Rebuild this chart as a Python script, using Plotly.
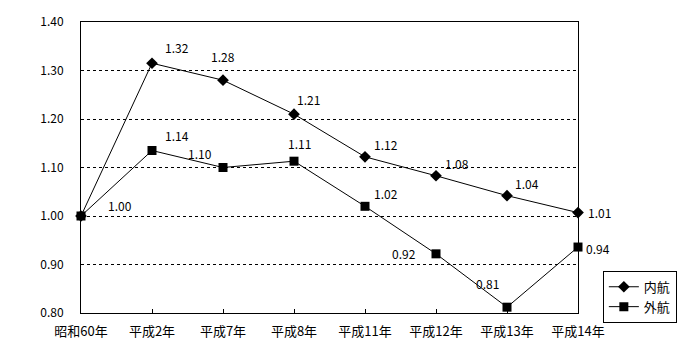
import plotly.graph_objects as go

categories = ["昭和60年", "平成2年", "平成7年", "平成8年", "平成11年", "平成12年", "平成13年", "平成14年"]
naikou = [1.00, 1.315, 1.28, 1.21, 1.122, 1.083, 1.042, 1.007]
gaikou = [1.00, 1.135, 1.10, 1.113, 1.02, 0.922, 0.812, 0.936]
naikou_labels = ["", "1.32", "1.28", "1.21", "1.12", "1.08", "1.04", "1.01"]
gaikou_labels = ["1.00", "1.14", "1.10", "1.11", "1.02", "0.92", "0.81", "0.94"]
y_ticks = [0.80, 0.90, 1.00, 1.10, 1.20, 1.30, 1.40]

# label offsets in pixels (dx, dy), dy positive = downward
naikou_off = [(0, 0), (25, -16), (0, -24), (14, -15), (21, -12), (21, -12), (20, -12), (21, 0)]
gaikou_off = [(39, -11), (25, -15), (-23, -14), (5, -18), (21, -13), (-32, 0), (-20, -24), (20, 1)]

FONT = "Noto Sans CJK JP"
fig = go.Figure()
x = list(range(len(categories)))
fig.add_trace(go.Scatter(x=x, y=naikou, mode="lines+markers", name="内航",
                         line=dict(color="black", width=1),
                         marker=dict(symbol="diamond", size=9, color="black"),
                         cliponaxis=False))
fig.add_trace(go.Scatter(x=x, y=gaikou, mode="lines+markers", name="外航",
                         line=dict(color="black", width=1),
                         marker=dict(symbol="square", size=9, color="black"),
                         cliponaxis=False))

ann = []
for i in x:
    if naikou_labels[i]:
        dx, dy = naikou_off[i]
        ann.append(dict(x=i, y=naikou[i], text=naikou_labels[i], showarrow=False,
                        xshift=dx, yshift=-dy, font=dict(family=FONT, size=12, color="black")))
    dx, dy = gaikou_off[i]
    ann.append(dict(x=i, y=gaikou[i], text=gaikou_labels[i], showarrow=False,
                    xshift=dx, yshift=-dy, font=dict(family=FONT, size=12, color="black")))

fig.update_layout(
    width=700, height=350,
    margin=dict(l=81, r=122, t=22, b=37),
    paper_bgcolor="white", plot_bgcolor="white",
    font=dict(family=FONT, size=12, color="black"),
    annotations=ann,
    showlegend=True,
    legend=dict(x=1.05, y=0.145, xanchor="left", yanchor="top",
                bordercolor="black", borderwidth=1, bgcolor="white",
                font=dict(family=FONT, size=13, color="black"),
                itemwidth=30, tracegroupgap=0),
)
fig.update_xaxes(range=[0, 7], tickvals=x, ticktext=categories, automargin=False,
                 showline=True, linecolor="black", linewidth=1, mirror=True,
                 ticks="inside", ticklen=4, tickcolor="black",
                 showgrid=False, zeroline=False, ticklabelstandoff=6,
                 tickfont=dict(family=FONT, size=13, color="black"))
fig.update_yaxes(range=[0.80, 1.40], tickvals=y_ticks, automargin=False,
                 ticktext=[f"{v:.2f}" for v in y_ticks],
                 showline=True, linecolor="black", linewidth=1, mirror=True,
                 showgrid=True, gridcolor="black", gridwidth=1, griddash="3px,3px",
                 zeroline=False, ticks="", ticklabelstandoff=14,
                 tickfont=dict(family=FONT, size=12, color="black"))
fig.write_html("out.html")
